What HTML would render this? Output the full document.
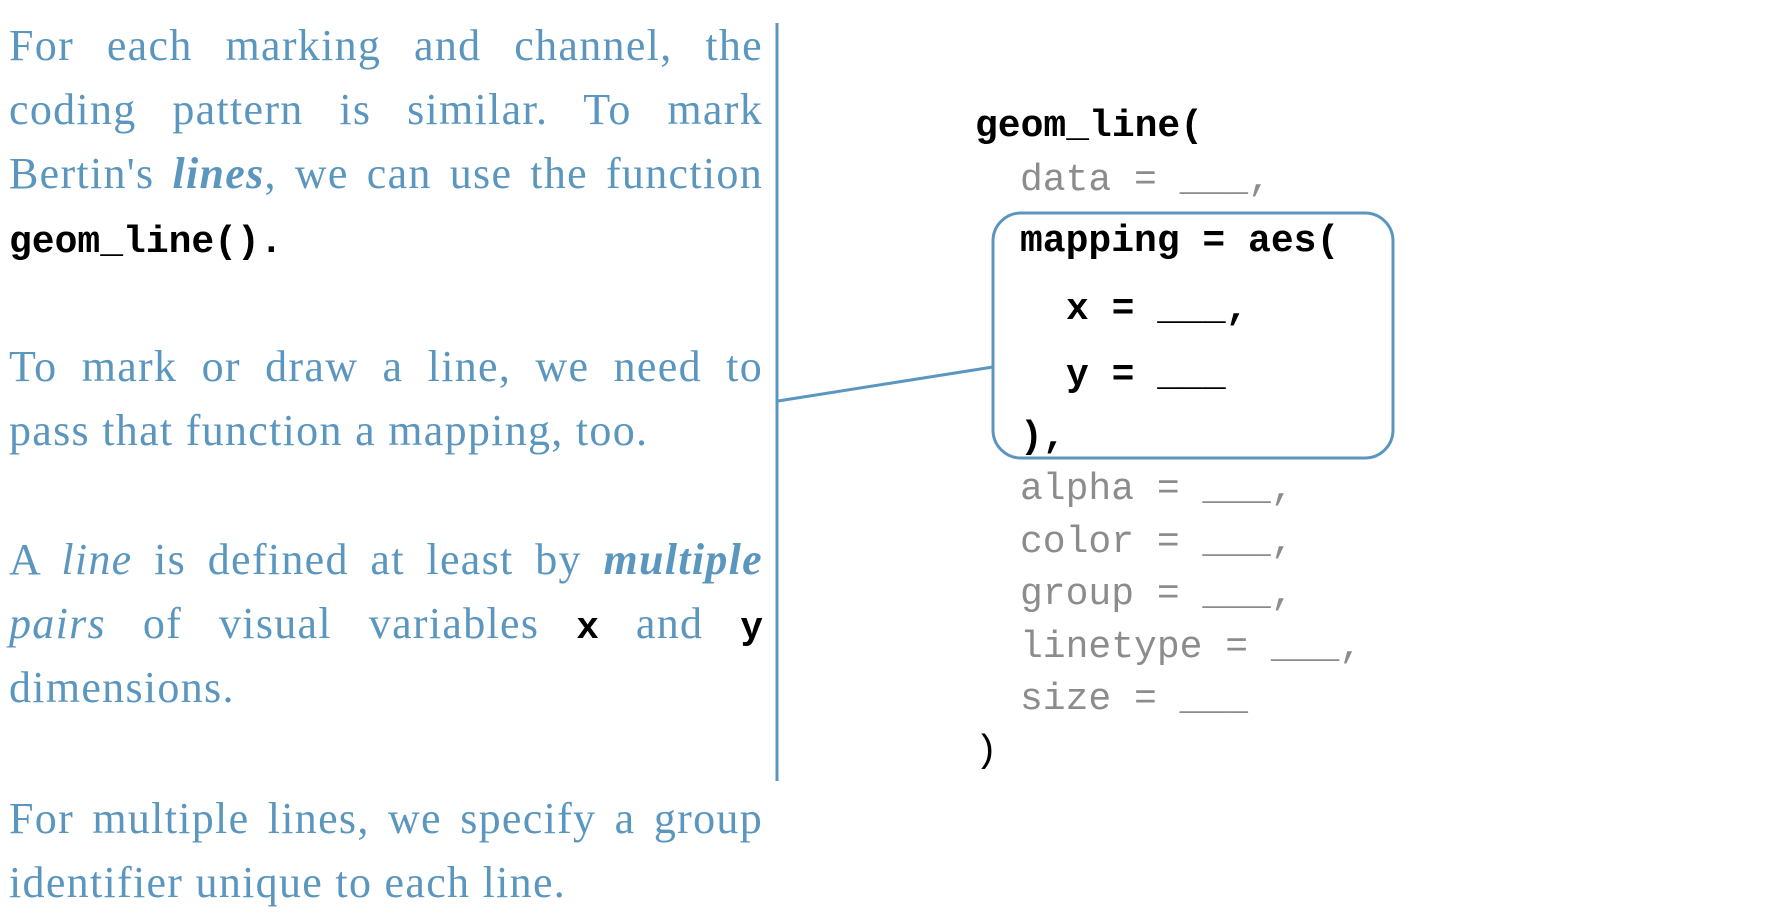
<!DOCTYPE html>
<html><head><meta charset="utf-8"><style>
body{margin:0;width:1782px;height:916px;background:#fff;position:relative;overflow:hidden}
.p{position:absolute;left:9px;width:754px;font-family:"Liberation Serif",serif;font-size:44px;letter-spacing:1.3px;line-height:64px;color:#5b96bf;white-space:nowrap}
.j{text-align:justify;text-align-last:justify;white-space:normal}
.m{font-family:"Liberation Mono",monospace;font-weight:bold;color:#000;font-size:38px;letter-spacing:0}
.c{position:absolute;font-family:"Liberation Mono",monospace;font-size:38px;line-height:50px;white-space:pre;color:#8c8c8c}
.b{font-weight:bold;color:#000}
</style></head><body>
<div class="p j" style="top:14px">For each marking and channel, the</div>
<div class="p j" style="top:78px">coding pattern is similar. To mark</div>
<div class="p j" style="top:142px">Bertin's <b><i>lines</i></b>, we can use the function</div>
<div class="p" style="top:206px"><span class="m">geom_line().</span></div>
<div class="p j" style="top:335px">To mark or draw a line, we need to</div>
<div class="p" style="top:399px">pass that function a mapping, too.</div>
<div class="p j" style="top:528px">A <i>line</i> is defined at least by <b><i>multiple</i></b></div>
<div class="p j" style="top:592px"><i>pairs</i> of visual variables <span class="m">x</span> and <span class="m">y</span></div>
<div class="p" style="top:656px">dimensions.</div>
<div class="p j" style="top:787px">For multiple lines, we specify a group</div>
<div class="p" style="top:851px">identifier unique to each line.</div>

<svg style="position:absolute;left:0;top:0" width="1782" height="916">
<line x1="777" y1="23" x2="777" y2="781" stroke="#5b96bf" stroke-width="3"/>
<line x1="778" y1="401" x2="993" y2="367" stroke="#5b96bf" stroke-width="3"/>
<rect x="993" y="213" width="400" height="245" rx="28" fill="none" stroke="#5b96bf" stroke-width="3"/>
</svg>

<div class="c b" style="left:975px;top:102px">geom_line(</div>
<div class="c" style="left:1020px;top:156px">data = ___,</div>
<div class="c b" style="left:1020px;top:217px">mapping = aes(</div>
<div class="c b" style="left:1066px;top:285px">x = ___,</div>
<div class="c b" style="left:1066px;top:351px">y = ___</div>
<div class="c b" style="left:1020px;top:413px">),</div>
<div class="c" style="left:1020px;top:465px">alpha = ___,</div>
<div class="c" style="left:1020px;top:518px">color = ___,</div>
<div class="c" style="left:1020px;top:570px">group = ___,</div>
<div class="c" style="left:1020px;top:623px">linetype = ___,</div>
<div class="c" style="left:1020px;top:675px">size = ___</div>
<div class="c" style="left:975px;top:727px;color:#000">)</div>
</body></html>
